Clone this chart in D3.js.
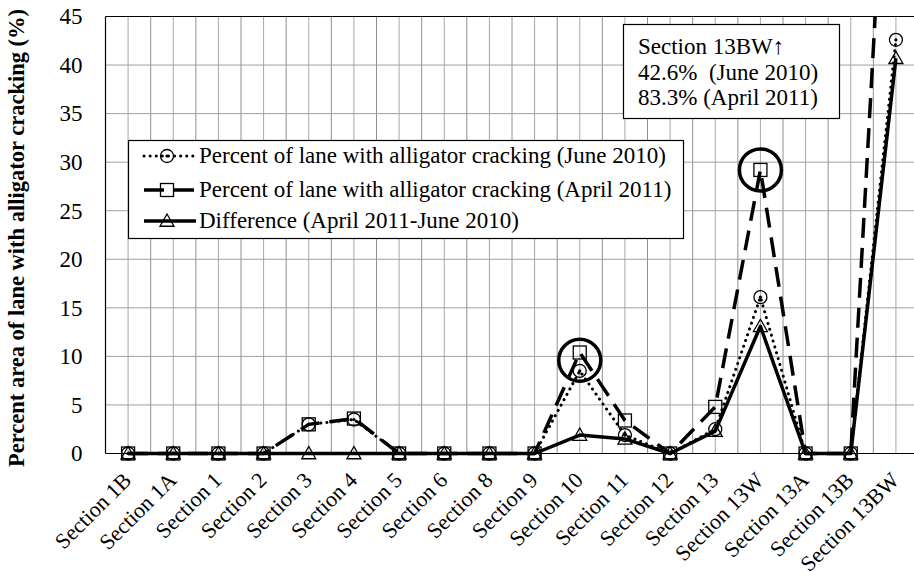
<!DOCTYPE html>
<html>
<head>
<meta charset="utf-8">
<script src="https://cdn.jsdelivr.net/npm/d3@7"></script>
<style>
  html, body { margin: 0; padding: 0; background: #fff; }
  svg { display: block; font-family: "Liberation Serif", "Times New Roman", serif; }
</style>
</head>
<body>
<svg id="chart" width="914" height="579"></svg>
<script>
// ---- data ----
const categories = ["Section 1B","Section 1A","Section 1","Section 2","Section 3","Section 4","Section 5","Section 6","Section 8","Section 9","Section 10","Section 11","Section 12","Section 13","Section 13W","Section 13A","Section 13B","Section 13BW"];
const june2010  = [0,0,0,0,3.0,3.5,0,0,0,0,8.5,1.9,0,2.5,16.1,0,0,42.6];
const april2011 = [0,0,0,0,3.0,3.6,0,0,0,0,10.4,3.4,0,4.8,29.2,0,0,83.3];
const difference = [0,0,0,0,0,0,0,0,0,0,1.9,1.5,0,2.3,13.1,0,0,40.7];
const yTicks = [0,5,10,15,20,25,30,35,40,45];
const seriesNames = ["Percent of lane with alligator cracking (June 2010)",
                     "Percent of lane with alligator cracking (April 2011)",
                     "Difference (April 2011-June 2010)"];
const highlights = [{cat:"Section 10", value:9.6}, {cat:"Section 13W", value:29.2}];
const noteLines = ["Section 13BW\u2191", "42.6%  (June 2010)", "83.3% (April 2011)"];
const yTitle = "Percent area of lane with alligator cracking (%)";

// ---- layout ----
const svg = d3.select("#chart");
const L = 105.5, R = 918.5, T = 16.5, B = 453.5;
const FS = 23;

const x = d3.scalePoint().domain(categories).range([L, R]).padding(0.5);
const step = x.step();
const y = d3.scaleLinear().domain([0,45]).range([B, T]);

// gridlines
const grid = svg.append("g");
categories.forEach((c, i) => {
  grid.append("line").attr("x1", x(c)).attr("x2", x(c)).attr("y1", T).attr("y2", B)
    .attr("stroke", "#a8a8a8").attr("stroke-width", 1);
  if (i > 0) {
    const bx = x(c) - step/2;
    grid.append("line").attr("x1", bx).attr("x2", bx).attr("y1", T).attr("y2", B)
      .attr("stroke", "#909090").attr("stroke-width", 1);
  }
});
yTicks.filter(t => t > 0 && t < 45).forEach(t => {
  grid.append("line").attr("x1", L).attr("x2", R).attr("y1", y(t)).attr("y2", y(t))
    .attr("stroke", "#a0a0a0").attr("stroke-width", 1);
});

// frame
svg.append("line").attr("x1", L).attr("x2", R).attr("y1", T).attr("y2", T).attr("stroke", "#000").attr("stroke-width", 1.2);
svg.append("line").attr("x1", L).attr("x2", L).attr("y1", T).attr("y2", B).attr("stroke", "#000").attr("stroke-width", 1.2);
svg.append("line").attr("x1", L).attr("x2", R).attr("y1", B).attr("y2", B).attr("stroke", "#000").attr("stroke-width", 1.2);

// y axis labels
const yAxis = d3.axisLeft(y).tickValues(yTicks).tickSize(0).tickPadding(23);
const ya = svg.append("g").attr("transform", `translate(${L},0)`).call(yAxis);
ya.select(".domain").remove();
ya.selectAll("text").attr("font-family", "Liberation Serif").attr("font-size", FS).attr("fill", "#000");

// x axis labels
const xAxis = d3.axisBottom(x).tickSize(0).tickPadding(0);
const xa = svg.append("g").attr("transform", `translate(0,${B})`).call(xAxis);
xa.select(".domain").remove();
xa.selectAll("text")
  .attr("font-family", "Liberation Serif").attr("font-size", 22).attr("fill", "#000")
  .attr("text-anchor", "end").attr("dy", null).attr("y", 0)
  .attr("transform", "translate(4,28) rotate(-45)");

// y title
svg.append("text")
  .attr("transform", `translate(24,238) rotate(-90)`)
  .attr("text-anchor", "middle")
  .attr("font-size", 22.5).attr("font-weight", "bold").attr("fill", "#000")
  .text(yTitle);

// clip
svg.append("clipPath").attr("id", "plotclip").append("rect")
  .attr("x", L).attr("y", T).attr("width", 914 - L).attr("height", B - T + 20);

const styles = [
  {data: june2010, dash: "0.1 6", width: 3, cap: "round", marker: "circle"},
  {data: april2011, dash: "20 10", width: 3.5, cap: "butt", marker: "square"},
  {data: difference, dash: null, width: 3.5, cap: "butt", marker: "triangle"}
];

const plot = svg.append("g").attr("clip-path", "url(#plotclip)");
const line = d3.line().x((d, i) => x(categories[i])).y(d => y(d));

function drawMarker(g, type, cx, cy) {
  if (type === "circle") {
    g.append("circle").attr("cx", cx).attr("cy", cy).attr("r", 6.5)
      .attr("fill", "none").attr("stroke", "#000").attr("stroke-width", 1.3);
    g.append("circle").attr("cx", cx).attr("cy", cy).attr("r", 1.6).attr("fill", "#000");
  } else if (type === "square") {
    g.append("rect").attr("x", cx - 6.5).attr("y", cy - 6.5).attr("width", 13).attr("height", 13)
      .attr("fill", "none").attr("stroke", "#000").attr("stroke-width", 1.3);
  } else {
    const s = 7;
    g.append("path").attr("d", `M${cx},${cy - s}L${cx + s},${cy + s*0.75}L${cx - s},${cy + s*0.75}Z`)
      .attr("fill", "none").attr("stroke", "#000").attr("stroke-width", 1.3);
  }
}

styles.forEach(s => {
  plot.append("path").datum(s.data).attr("d", line)
    .attr("fill", "none").attr("stroke", "#000").attr("stroke-width", s.width)
    .attr("stroke-linecap", s.cap).attr("stroke-linejoin", "round")
    .attr("stroke-dasharray", s.dash);
});
styles.forEach(s => {
  s.data.forEach((v, i) => {
    if (v <= 45) drawMarker(plot, s.marker, x(categories[i]), y(v));
  });
});

// highlight circles
highlights.forEach(h => {
  svg.append("circle").attr("cx", x(h.cat)).attr("cy", y(h.value)).attr("r", 21)
    .attr("fill", "none").attr("stroke", "#000").attr("stroke-width", 3.5);
});

// legend
const lg = svg.append("g");
lg.append("rect").attr("x", 128.5).attr("y", 140.5).attr("width", 555).attr("height", 98)
  .attr("fill", "#fff").attr("stroke", "#000").attr("stroke-width", 1.2);
const rowY = [156, 190, 221];
styles.forEach((s, i) => {
  lg.append("line").attr("x1", 144).attr("x2", 196).attr("y1", rowY[i]).attr("y2", rowY[i])
    .attr("stroke", "#000").attr("stroke-width", s.width).attr("stroke-linecap", s.cap)
    .attr("stroke-dasharray", s.dash);
  drawMarker(lg, s.marker, 167, rowY[i]);
  lg.append("text").attr("x", 199).attr("y", rowY[i] + 7).attr("font-size", FS).attr("fill", "#000")
    .text(seriesNames[i]);
});

// note box
const nb = svg.append("g");
nb.append("rect").attr("x", 623.5).attr("y", 24.5).attr("width", 216).attr("height", 94)
  .attr("fill", "#fff").attr("stroke", "#000").attr("stroke-width", 1.2);
noteLines.forEach((t, i) => {
  nb.append("text").attr("x", 638).attr("y", 54 + i*25.5).attr("font-size", FS).attr("fill", "#000")
    .attr("xml:space", "preserve").style("white-space", "pre").text(t);
});
</script>
</body>
</html>
